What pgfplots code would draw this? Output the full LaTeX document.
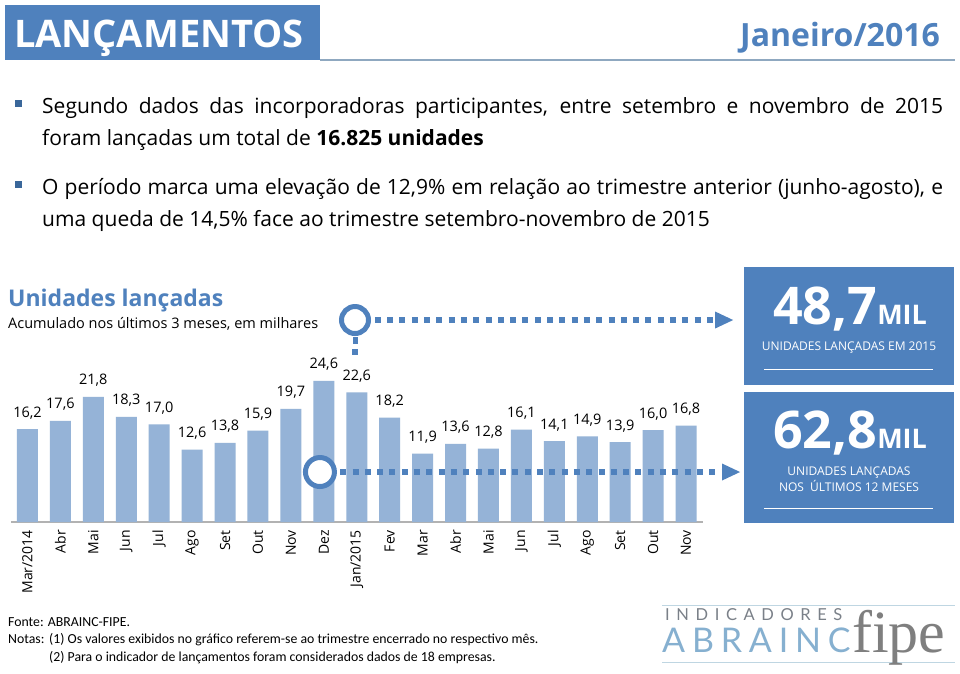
\documentclass[border=0pt]{standalone}
\usepackage{fontspec}
\setmainfont{Open Sans}
\newfontfamily\carlito{Carlito}
\newfontfamily\latosp[LetterSpace=40]{Lato}
\newfontfamily\latoab[LetterSpace=20]{Lato}
\newfontfamily\serifl{Liberation Serif}
\usepackage{pgfplots}
\pgfplotsset{compat=1.18}
\usetikzlibrary{arrows.meta}
\definecolor{hdrblue}{HTML}{4F81BD}
\definecolor{barblue}{HTML}{95B3D7}
\definecolor{bulletblue}{HTML}{3A679A}
\definecolor{linegray}{HTML}{8FA8C0}
\definecolor{logoline}{HTML}{BFD6E2}
\definecolor{logogray}{HTML}{7A8088}
\definecolor{logoblue}{HTML}{86B0D0}
\definecolor{fipegray}{HTML}{7F7F7F}
\newcommand{\fs}[1]{\fontsize{#1}{#1}\selectfont}
\begin{document}
\begin{tikzpicture}[x=1pt,y=-1pt]
\fill[white] (0,0) rectangle (960,673);
% header
\fill[hdrblue] (5,5) rectangle (320,60);
\node[anchor=base west, text=white, font=\bfseries\fs{38}, inner sep=0pt] at (14,47) {LANÇAMENTOS};
\draw[linegray, line width=2pt] (320,60) -- (955,60);
\node[anchor=base east, text=hdrblue, font=\bfseries\fs{32}, inner sep=0pt] at (940,46) {Janeiro/2016};
% bullets
\fill[bulletblue] (15,100) rectangle (22,107);
\fill[bulletblue] (15,181) rectangle (22,188);
\node[anchor=base west, inner sep=0pt, font=\fs{21}] at (42,113) {\makebox[901pt][s]{Segundo dados das incorporadoras participantes, entre setembro e novembro de 2015}};
\node[anchor=base west, inner sep=0pt, font=\fs{21}] at (42,145) {foram lançadas um total de \textbf{16.825 unidades}};
\node[anchor=base west, inner sep=0pt, font=\fs{21}] at (42,194) {\makebox[901pt][s]{O período marca uma elevação de 12,9\% em relação ao trimestre anterior (junho-agosto), e}};
\node[anchor=base west, inner sep=0pt, font=\fs{21}] at (42,226) {uma queda de 14,5\% face ao trimestre setembro-novembro de 2015};
% chart titles
\node[anchor=base west, inner sep=0pt, text=hdrblue, font=\bfseries\fs{23}] at (8,306) {Unidades lançadas};
\node[anchor=base west, inner sep=0pt, font=\fs{14.5}] at (8,328) {Acumulado nos últimos 3 meses, em milhares};
% chart
\begin{axis}[at={(11pt,-522pt)}, anchor=south west, scale only axis,
  width=691.5pt, height=143.5pt,
  xmin=-0.5, xmax=20.5, ymin=0, ymax=25,
  axis x line=bottom, axis y line=none,
  x axis line style={draw=black!30, line width=1.2pt, -},
  clip=false, ybar, bar width=21pt,
  /pgf/number format/assume math mode=true,
  xtick={0,...,20}, major tick length=0pt,
  xticklabels={Mar/2014,Abr,Mai,Jun,Jul,Ago,Set,Out,Nov,Dez,Jan/2015,Fev,Mar,Abr,Mai,Jun,Jul,Ago,Set,Out,Nov},
  xticklabel style={rotate=90, anchor=east, inner sep=0pt, font=\fs{14}},
  xticklabel shift=8pt,
  nodes near coords={\pgfmathprintnumber[fixed,fixed zerofill,precision=1,use comma]{\pgfplotspointmeta}},
  every node near coord/.append style={anchor=base, inner sep=0pt, yshift=12pt, font=\fs{14.5}, text=black},
]
\addplot[fill=barblue, draw=none] coordinates {
(0,16.2) (1,17.6) (2,21.8) (3,18.3) (4,17.0) (5,12.6) (6,13.8) (7,15.9) (8,19.7) (9,24.6) (10,22.6)
(11,18.2) (12,11.9) (13,13.6) (14,12.8) (15,16.1) (16,14.1) (17,14.9) (18,13.9) (19,16.0) (20,16.8)};
% annotation: upper
\draw[hdrblue, line width=6pt, dash pattern=on 6pt off 6.3pt] (axis cs:10.55,35.19) -- (axis cs:20.93,35.19);
\fill[hdrblue] (axis cs:21.43,35.19) -- ++(-18pt,8.5pt) -- ++(0pt,-17pt) -- cycle;
\draw[hdrblue, line width=5pt] (axis cs:9.947,32.2) -- (axis cs:9.947,31.0);
\fill[hdrblue] (axis cs:9.947,29.6) ++(-3pt,-3pt) rectangle ++(6pt,6pt);
\draw[hdrblue, line width=5pt, fill=white] (axis cs:9.947,35.19) circle[radius=13.5pt];
% annotation: lower
\draw[hdrblue, line width=6pt, dash pattern=on 6pt off 6.3pt] (axis cs:9.5,8.71) -- (axis cs:21.1,8.71);
\fill[hdrblue] (axis cs:21.64,8.71) -- ++(-18pt,8.5pt) -- ++(0pt,-17pt) -- cycle;
\draw[hdrblue, line width=5pt, fill=white] (axis cs:8.882,8.71) circle[radius=14.5pt];
\end{axis}
% right boxes
\fill[hdrblue] (744,267) rectangle (954,385);
\fill[hdrblue] (744,392) rectangle (954,523);
\node[anchor=base, inner sep=0pt, text=white] at (850,324) {\bfseries\fs{52}48,7\fs{27}MIL};
\node[anchor=base, inner sep=0pt, text=white, font=\fs{12}] at (849,350) {UNIDADES LANÇADAS EM 2015};
\draw[white, line width=0.8pt] (764,369) -- (933,369);
\node[anchor=base, inner sep=0pt, text=white] at (850,448) {\bfseries\fs{52}62,8\fs{27}MIL};
\node[anchor=base, inner sep=0pt, text=white, font=\fs{12}] at (849,475) {UNIDADES LANÇADAS};
\node[anchor=base, inner sep=0pt, text=white, font=\fs{12}] at (849,491) {NOS\ \ ÚLTIMOS 12 MESES};
\draw[white, line width=0.8pt] (764,508) -- (933,508);
% footer
\node[anchor=base west, inner sep=0pt, font=\carlito\fs{13.8}] at (8,626) {Fonte: ABRAINC-FIPE.};
\node[anchor=base west, inner sep=0pt, font=\carlito\fs{13.8}] at (8,643) {Notas:};
\node[anchor=base west, inner sep=0pt, font=\carlito\fs{13.8}] at (49,643) {(1) Os valores exibidos no gráfico referem-se ao trimestre encerrado no respectivo mês.};
\node[anchor=base west, inner sep=0pt, font=\carlito\fs{13.8}] at (49,661) {(2) Para o indicador de lançamentos foram considerados dados de 18 empresas.};
% logo
\draw[logoline, line width=1pt] (662,605) -- (955,605);
\draw[logoline, line width=1pt] (662,662) -- (955,662);
\node[anchor=base west, inner sep=0pt, text=logogray, font=\latosp\fs{16.5}] at (665,620) {INDICADORES};
\node[anchor=base west, inner sep=0pt, text=logoblue, font=\latoab\fs{34}] at (662,652) {ABRAINC};
\node[anchor=base west, inner sep=0pt, text=fipegray, font=\serifl\fs{60}] at (852,652) {fipe};
\end{tikzpicture}
\end{document}
